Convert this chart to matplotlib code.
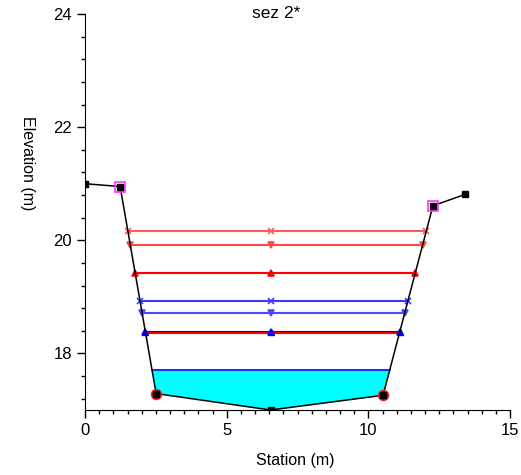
import numpy as np
import matplotlib
matplotlib.use("Agg")
import matplotlib.pyplot as plt

plt.rcParams['font.family'] = ['Liberation Sans', 'DejaVu Sans']

# Ground profile
station = [0.0, 1.24, 2.51, 6.55, 10.52, 12.28, 13.41]
elevation = [21.00, 20.95, 17.29, 17.00, 17.26, 20.61, 20.81]
bank_idx = [1, 5]
levee_idx = [2, 4]

# Water surface profiles
ws_values = [20.17, 19.92, 19.43, 18.92, 18.71, 18.38, 18.36]
ws_colors = ['#ff5a5a', '#ff4a4a', '#ff0000', '#3c3cff', '#4a4aff', '#0000ff', '#ff0000']
ws_markers = ['x', 'v', '^', 'x', 'v', '^', None]
fill_ws = 17.70

st = np.array(station)
el = np.array(elevation)
thal = int(np.argmin(el))


def crossings(z):
    xl = st[0]
    for i in range(thal, 0, -1):
        if el[i - 1] >= z >= el[i]:
            xl = st[i - 1] + (z - el[i - 1]) * (st[i] - st[i - 1]) / (el[i] - el[i - 1])
            break
    xr = st[-1]
    for i in range(thal, len(st) - 1):
        if el[i] <= z <= el[i + 1]:
            xr = st[i] + (z - el[i]) * (st[i + 1] - st[i]) / (el[i + 1] - el[i])
            break
    return xl, xr


fig = plt.figure(figsize=(5.21, 4.75), dpi=100)
ax = fig.add_axes([85 / 521, 1 - 410 / 475, 425 / 521, 396 / 475])

# Filled water
xl, xr = crossings(fill_ws)
mask = (st > xl) & (st < xr)
px = np.concatenate([[xl], st[mask], [xr]])
py = np.concatenate([[fill_ws], el[mask], [fill_ws]])
ax.fill(px, py, color='#00ffff', zorder=1, lw=0)
ax.plot([xl, xr], [fill_ws, fill_ws], color='#0000ff', lw=1.2, zorder=2)

# WS lines
for z, c, m in zip(ws_values, ws_colors, ws_markers):
    a, b = crossings(z)
    ax.plot([a, b], [z, z], color=c, lw=1.5, zorder=3)
    if m is not None:
        ax.plot([a, st[thal], b], [z, z, z], ls='none', marker=m, color=c,
                ms=5, mew=1.2, zorder=4)
a5, b5 = crossings(ws_values[5])
ax.plot([a5, st[thal], b5], [ws_values[5]] * 3, ls='none', marker='^',
        color='#0000ff', ms=5, zorder=5)

# Ground
ax.plot(st, el, color='black', lw=1.1, zorder=6)
ax.plot(st[levee_idx], el[levee_idx], ls='none', marker='o', ms=7, mfc='black',
        mec='#ff2020', mew=1.3, zorder=7)
ax.plot(st[bank_idx], el[bank_idx], ls='none', marker='s', ms=7.5, mfc='none',
        mec='#ff33ff', mew=1.2, zorder=7)
ax.plot(st, el, ls='none', marker='s', ms=5, color='black', zorder=8)

ax.set_xlim(0, 15)
ax.set_ylim(17.0, 24)
ax.set_xticks([0, 5, 10, 15])
ax.set_xticks(np.arange(0, 15.01, 0.5), minor=True)
ax.set_yticks([18, 20, 22, 24])
ax.set_yticks(np.arange(17.2, 24.01, 0.4), minor=True)
for s in ['top', 'right']:
    ax.spines[s].set_visible(False)
ax.tick_params(which='major', direction='out', length=6, labelsize=12, width=1)
ax.tick_params(which='minor', direction='out', length=3, width=1)

fig.text(276 / 521, 1 - 14 / 475, 'sez 2*', ha='center', va='center', fontsize=12.5)
fig.text(295 / 521, 1 - 460 / 475, 'Station (m)', ha='center', va='center', fontsize=11.5)
fig.text(27 / 521, 1 - 163 / 475, 'Elevation (m)', ha='center', va='center', fontsize=11.5,
         rotation=-90)

fig.savefig('out.png', dpi=100)
